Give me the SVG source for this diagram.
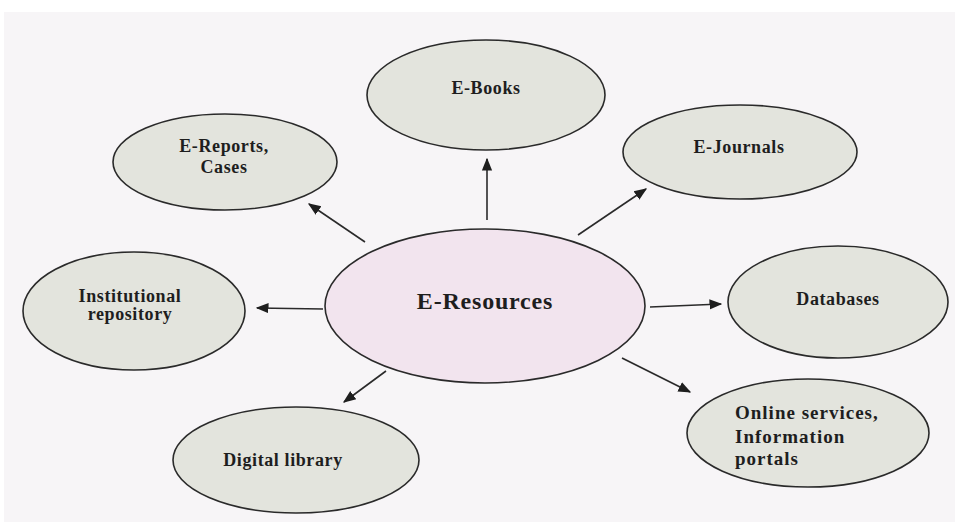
<svg xmlns="http://www.w3.org/2000/svg" width="955" height="522" viewBox="0 0 955 522">
  <style>
    .node { fill: #e3e4dd; stroke: #2a2a2a; stroke-width: 1.6; }
    .hub { fill: #f2e4ee; stroke: #2a2a2a; stroke-width: 1.6; }
    .lbl { font-family: "Liberation Serif", "Times New Roman", serif; font-weight: bold; font-size: 18px; fill: #1e1e1e; text-anchor: middle; letter-spacing: 0.6px; }
    .hub-lbl { font-size: 24px; letter-spacing: 0.8px; }
    .left { text-anchor: start; font-size: 19px; letter-spacing: 1px; }
    .edge { stroke: #2a2a2a; stroke-width: 1.6; fill: none; marker-end: url(#arrow); }
  </style>
  <defs>
    <marker id="arrow" viewBox="0 0 10 10" refX="9" refY="5" markerWidth="8" markerHeight="8" markerUnits="strokeWidth" orient="auto">
      <path d="M0,1 L10,5 L0,9 z" fill="#1e1e1e"/>
    </marker>
  </defs>

  <!-- page background -->
  <rect x="0" y="0" width="955" height="522" fill="#ffffff"/>
  <rect x="4" y="12" width="951" height="510" fill="#f7f5f7"/>

  <!-- connectors from the hub -->
  <g id="connectors">
    <line class="edge" x1="487" y1="220" x2="487" y2="159"/>
    <line class="edge" x1="578" y1="235" x2="646" y2="189"/>
    <line class="edge" x1="365" y1="242" x2="309" y2="204"/>
    <line class="edge" x1="323" y1="309" x2="257" y2="308"/>
    <line class="edge" x1="650" y1="307" x2="721" y2="304"/>
    <line class="edge" x1="622" y1="358" x2="690" y2="392"/>
    <line class="edge" x1="386" y1="371" x2="344" y2="402"/>
  </g>

  <g id="e-resources">
    <ellipse class="hub" cx="485" cy="306" rx="160" ry="77"/>
    <text class="lbl hub-lbl" x="485" y="309">E-Resources</text>
  </g>

  <g id="e-books">
    <ellipse class="node" cx="486" cy="95" rx="119" ry="55"/>
    <text class="lbl" x="486" y="94">E-Books</text>
  </g>

  <g id="e-reports">
    <ellipse class="node" cx="225" cy="162" rx="112" ry="48"/>
    <text class="lbl" x="224" y="152">E-Reports,</text>
    <text class="lbl" x="224" y="173">Cases</text>
  </g>

  <g id="e-journals">
    <ellipse class="node" cx="740" cy="152" rx="117" ry="47"/>
    <text class="lbl" x="739" y="153">E-Journals</text>
  </g>

  <g id="institutional-repository">
    <ellipse class="node" cx="134" cy="311" rx="111" ry="59"/>
    <text class="lbl" x="130" y="302">Institutional</text>
    <text class="lbl" x="130" y="320">repository</text>
  </g>

  <g id="databases">
    <ellipse class="node" cx="838" cy="302" rx="110" ry="56"/>
    <text class="lbl" x="838" y="305">Databases</text>
  </g>

  <g id="online-services">
    <ellipse class="node" cx="808" cy="433" rx="121" ry="54"/>
    <text class="lbl left" x="735" y="419">Online services,</text>
    <text class="lbl left" x="735" y="443">Information</text>
    <text class="lbl left" x="735" y="465">portals</text>
  </g>

  <g id="digital-library">
    <ellipse class="node" cx="296" cy="460" rx="123" ry="53"/>
    <text class="lbl" x="283" y="466">Digital library</text>
  </g>
</svg>
